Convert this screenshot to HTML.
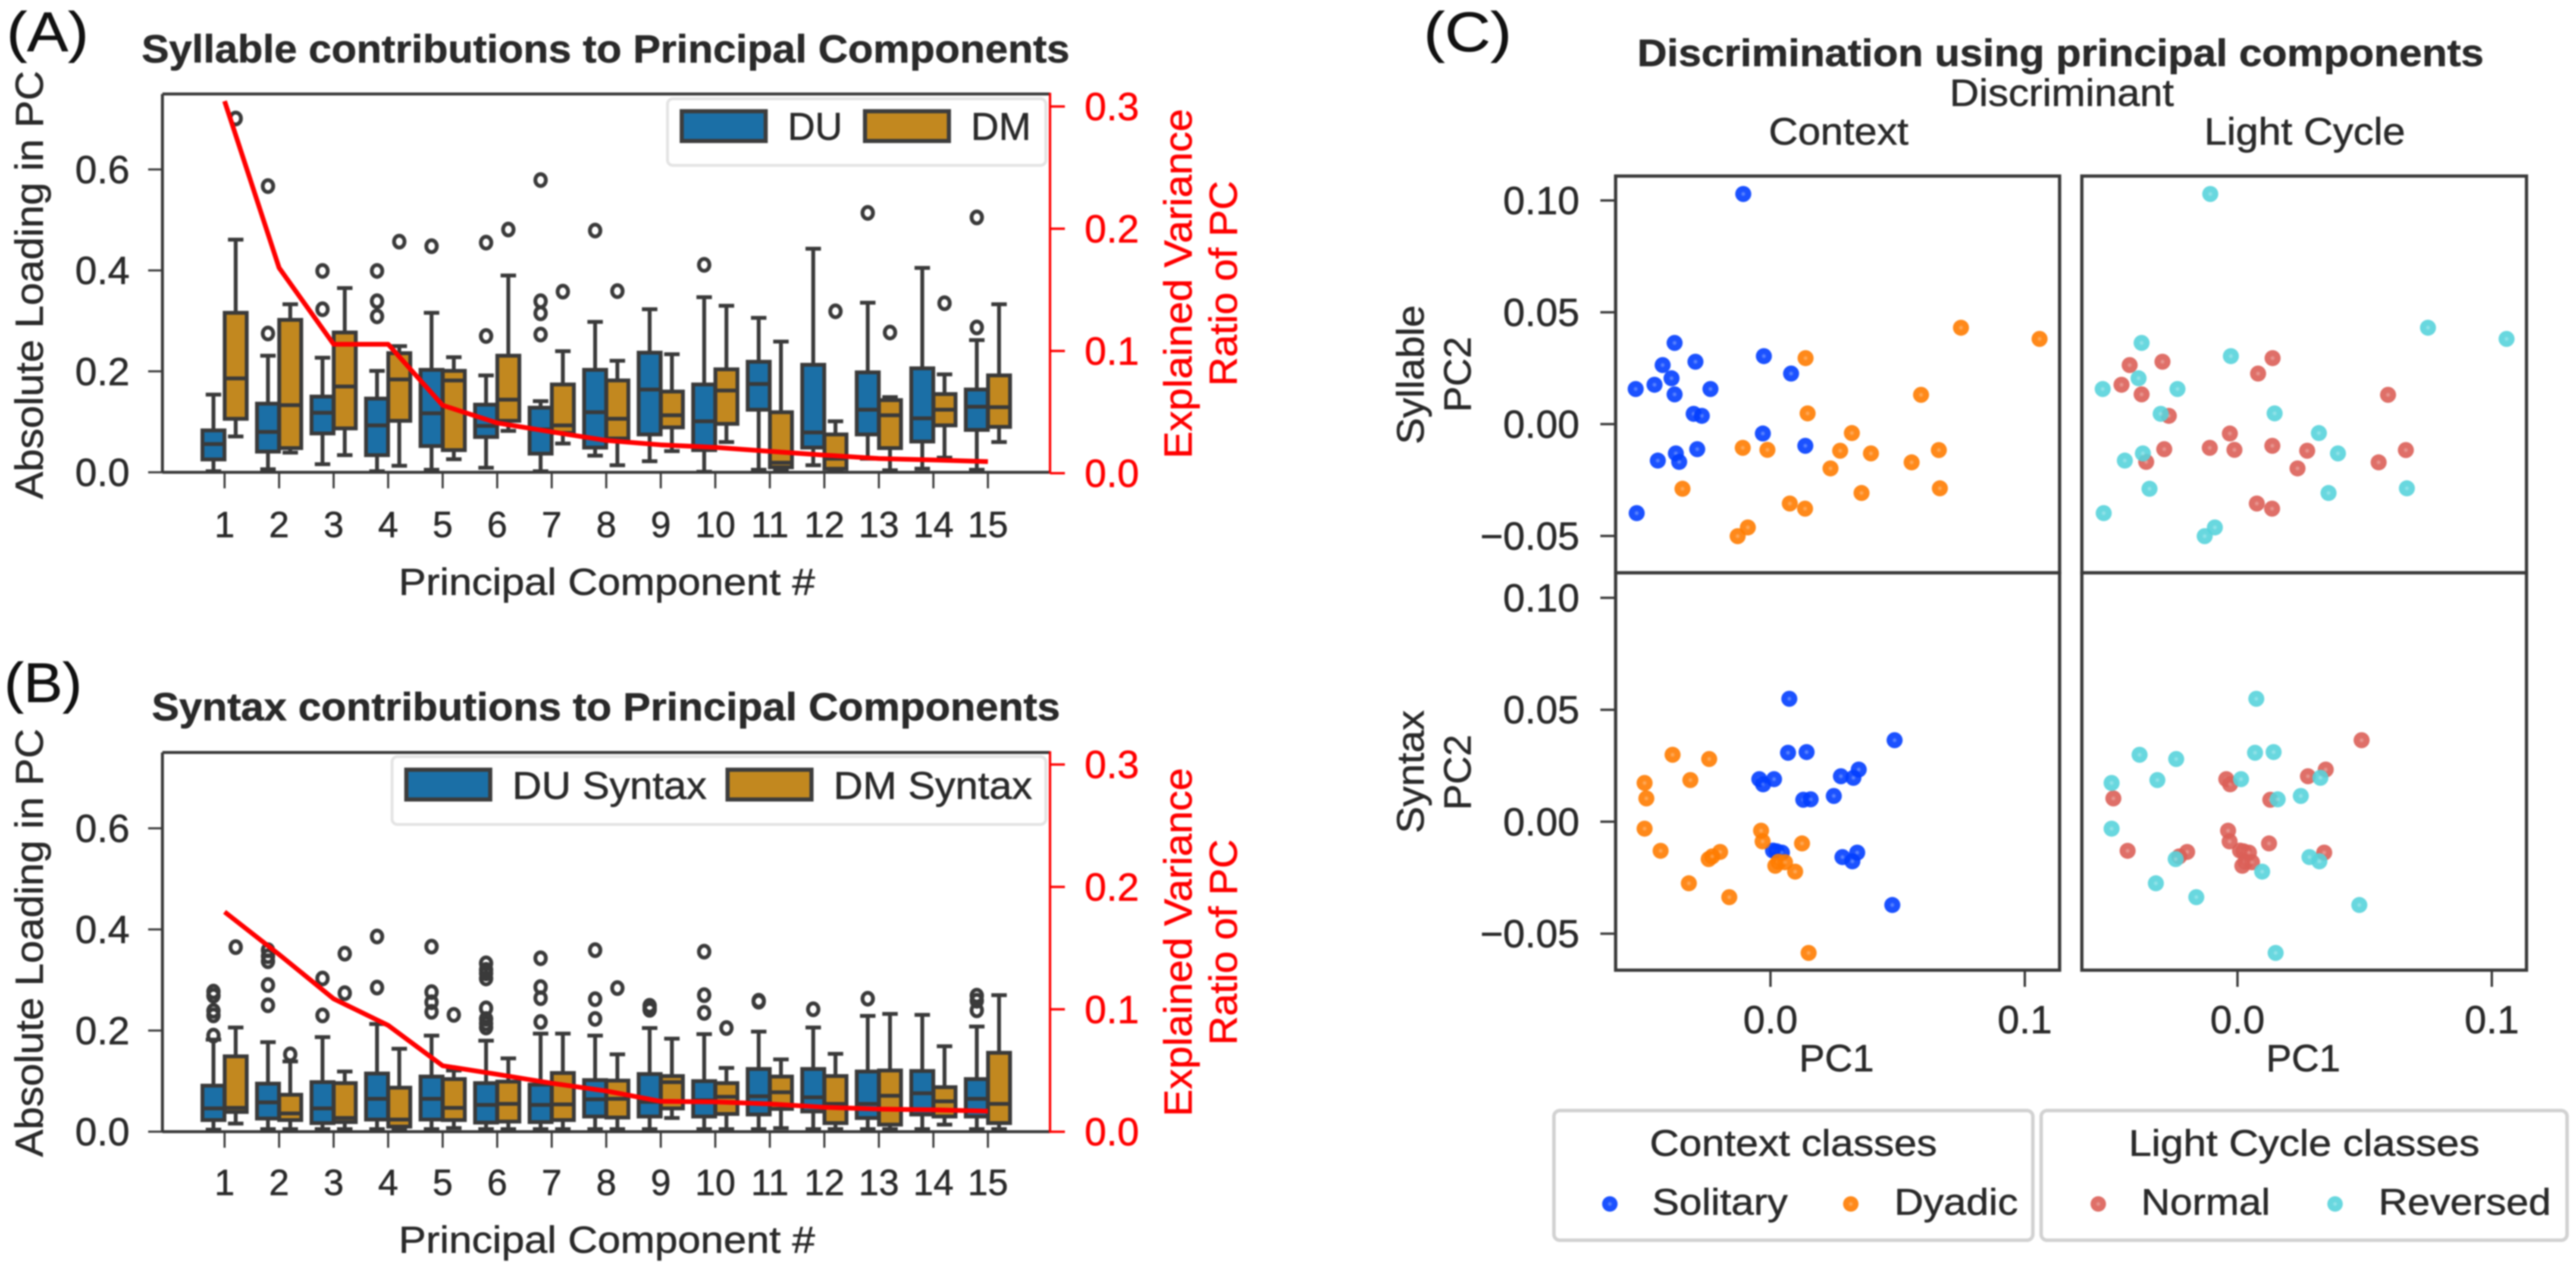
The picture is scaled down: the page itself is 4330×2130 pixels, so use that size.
<!DOCTYPE html>
<html>
<head>
<meta charset="utf-8">
<title>PCA contributions and discrimination</title>
<style>
html,body{margin:0;padding:0;background:#fff;}
svg{display:block;filter:blur(1.3px);}
text{font-family:"Liberation Sans",sans-serif;fill:#2a2a2a;stroke:#2a2a2a;stroke-width:.7px;}
.red{fill:#ff0000;stroke:#ff0000;}
.tag{fill:#111;stroke:#111;}
</style>
</head>
<body>
<svg id="fig" xmlns="http://www.w3.org/2000/svg" width="4330" height="2130" viewBox="0 0 4330 2130">
<defs>
<radialGradient id="g-blue"><stop offset="0" stop-color="#5f8aff"/><stop offset=".35" stop-color="#023eff"/></radialGradient>
<radialGradient id="g-orange"><stop offset="0" stop-color="#ffab5c"/><stop offset=".35" stop-color="#ff7c00"/></radialGradient>
<radialGradient id="g-red"><stop offset="0" stop-color="#e99a94"/><stop offset=".35" stop-color="#db5f57"/></radialGradient>
<radialGradient id="g-cyan"><stop offset="0" stop-color="#95e4ea"/><stop offset=".35" stop-color="#57d3db"/></radialGradient>
</defs>
<rect width="4330" height="2130" fill="#fff"/>

<text class="tag" x="11" y="86" font-size="94" textLength="138" lengthAdjust="spacingAndGlyphs">(A)</text>
<text class="tag" x="7" y="1180" font-size="94" textLength="131" lengthAdjust="spacingAndGlyphs">(B)</text>
<text class="tag" x="2393" y="86" font-size="94" textLength="148" lengthAdjust="spacingAndGlyphs">(C)</text>

<text x="238" y="105" font-size="66" font-weight="bold" textLength="1560" lengthAdjust="spacingAndGlyphs">Syllable contributions to Principal Components</text>
<text x="255" y="1211" font-size="66" font-weight="bold" textLength="1527" lengthAdjust="spacingAndGlyphs">Syntax contributions to Principal Components</text>
<text x="2752" y="111" font-size="64" font-weight="bold" textLength="1423" lengthAdjust="spacingAndGlyphs">Discrimination using principal components</text>

<text transform="translate(72,839) rotate(-90)" font-size="66" textLength="720" lengthAdjust="spacingAndGlyphs">Absolute Loading in PC</text>
<text transform="translate(72,1945) rotate(-90)" font-size="66" textLength="720" lengthAdjust="spacingAndGlyphs">Absolute Loading in PC</text>

<text x="670" y="1000" font-size="63" textLength="700" lengthAdjust="spacingAndGlyphs">Principal Component #</text>
<text x="670" y="2106" font-size="63" textLength="700" lengthAdjust="spacingAndGlyphs">Principal Component #</text>

<text class="red" transform="translate(2003,771) rotate(-90)" font-size="66" textLength="588" lengthAdjust="spacingAndGlyphs">Explained Variance</text>
<text class="red" transform="translate(2079,649) rotate(-90)" font-size="66" textLength="345" lengthAdjust="spacingAndGlyphs">Ratio of PC</text>
<text class="red" transform="translate(2003,1877) rotate(-90)" font-size="66" textLength="586" lengthAdjust="spacingAndGlyphs">Explained Variance</text>
<text class="red" transform="translate(2079,1757) rotate(-90)" font-size="66" textLength="346" lengthAdjust="spacingAndGlyphs">Ratio of PC</text>

<g id="panelA"></g>
<g id="panelB"></g>

<g>
<rect x="1122" y="166" width="636" height="112" rx="9" fill="#fff" stroke="#e4e4e4" stroke-width="5"/>
<rect x="1146" y="187" width="141" height="50" fill="#1b6fa6" stroke="#3d3d3d" stroke-width="7"/>
<text x="1324" y="235" font-size="65" textLength="92" lengthAdjust="spacingAndGlyphs">DU</text>
<rect x="1454" y="187" width="141" height="50" fill="#c2881f" stroke="#3d3d3d" stroke-width="7"/>
<text x="1632" y="235" font-size="65" textLength="101" lengthAdjust="spacingAndGlyphs">DM</text>
</g>
<g>
<rect x="659" y="1272" width="1099" height="114" rx="9" fill="#fff" stroke="#e4e4e4" stroke-width="5"/>
<rect x="683" y="1294" width="141" height="50" fill="#1b6fa6" stroke="#3d3d3d" stroke-width="7"/>
<text x="861" y="1343" font-size="65" textLength="327" lengthAdjust="spacingAndGlyphs">DU Syntax</text>
<rect x="1223" y="1294" width="141" height="50" fill="#c2881f" stroke="#3d3d3d" stroke-width="7"/>
<text x="1401" y="1343" font-size="65" textLength="334" lengthAdjust="spacingAndGlyphs">DM Syntax</text>
</g>

<text x="3277" y="178" font-size="64" textLength="377" lengthAdjust="spacingAndGlyphs">Discriminant</text>
<text x="2973" y="243" font-size="64" textLength="235" lengthAdjust="spacingAndGlyphs">Context</text>
<text x="3705" y="243" font-size="64" textLength="338" lengthAdjust="spacingAndGlyphs">Light Cycle</text>
<text transform="translate(2393,747) rotate(-90)" font-size="64" textLength="234" lengthAdjust="spacingAndGlyphs">Syllable</text>
<text transform="translate(2472,693) rotate(-90)" font-size="64" textLength="127" lengthAdjust="spacingAndGlyphs">PC2</text>
<text transform="translate(2393,1401) rotate(-90)" font-size="64" textLength="207" lengthAdjust="spacingAndGlyphs">Syntax</text>
<text transform="translate(2472,1362) rotate(-90)" font-size="64" textLength="127" lengthAdjust="spacingAndGlyphs">PC2</text>
<text x="3024" y="1801" font-size="64" textLength="126" lengthAdjust="spacingAndGlyphs">PC1</text>
<text x="3809" y="1801" font-size="64" textLength="125" lengthAdjust="spacingAndGlyphs">PC1</text>

<g id="panelC"></g>

<g>
<rect x="2612" y="1867" width="805" height="218" rx="10" fill="#fff" stroke="#d2d2d2" stroke-width="6"/>
<text x="2773" y="1943" font-size="62" textLength="483" lengthAdjust="spacingAndGlyphs">Context classes</text>
<circle cx="2706" cy="2024" r="13" fill="url(#g-blue)" opacity=".9"/>
<text x="2777" y="2042" font-size="62" textLength="228" lengthAdjust="spacingAndGlyphs">Solitary</text>
<circle cx="3111" cy="2024" r="13" fill="url(#g-orange)" opacity=".9"/>
<text x="3184" y="2042" font-size="62" textLength="208" lengthAdjust="spacingAndGlyphs">Dyadic</text>
</g>
<g>
<rect x="3431" y="1867" width="884" height="218" rx="10" fill="#fff" stroke="#d2d2d2" stroke-width="6"/>
<text x="3578" y="1943" font-size="62" textLength="590" lengthAdjust="spacingAndGlyphs">Light Cycle classes</text>
<circle cx="3527" cy="2024" r="13" fill="url(#g-red)" opacity=".9"/>
<text x="3599" y="2042" font-size="62" textLength="217" lengthAdjust="spacingAndGlyphs">Normal</text>
<circle cx="3925" cy="2024" r="13" fill="url(#g-cyan)" opacity=".9"/>
<text x="3998" y="2042" font-size="62" textLength="290" lengthAdjust="spacingAndGlyphs">Reversed</text>
</g>
</svg>

<script>
// ---------- categories and tick labels ----------
const pcCategories = ['1','2','3','4','5','6','7','8','9','10','11','12','13','14','15'];
const loadingTicks = [0, 0.2, 0.4, 0.6];
const varianceTicks = [0, 0.1, 0.2, 0.3];
const pc1Ticks = [0, 0.1];
const pc2Ticks = [-0.05, 0, 0.05, 0.10];

// ---------- panel A: syllable loadings ----------
const syllableDuLow  = [.002,.006,.016,.002,.005,.009,.002,.033,.022,.001,.005,.014,.027,.007,.005];
const syllableDuQ1   = [.0255,.041,.077,.034,.052,.070,.037,.049,.075,.044,.124,.049,.075,.061,.084];
const syllableDuMed  = [.056,.080,.118,.093,.117,.092,.085,.119,.164,.101,.175,.079,.124,.107,.130];
const syllableDuQ3   = [.083,.136,.150,.146,.203,.134,.128,.203,.237,.174,.219,.213,.198,.206,.164];
const syllableDuHigh = [.154,.231,.227,.201,.316,.192,.141,.298,.323,.347,.306,.443,.336,.405,.262];
const syllableDuOut  = [[],[.567,.275],[.399,.323],[.399,.339,.309],[.448],[.455,.270],[.579,.339,.315,.273],[.479],[],[.411],[],[],[.514],[],[.505,.287]];

const syllableDmLow  = [.071,.039,.034,.013,.026,.082,.057,.014,.042,.060,.004,.004,.004,.029,.060];
const syllableDmQ1   = [.106,.048,.087,.102,.044,.102,.078,.067,.089,.096,.010,.007,.048,.093,.090];
const syllableDmMed  = [.186,.133,.170,.184,.182,.144,.093,.106,.113,.162,.019,.027,.113,.124,.129];
const syllableDmQ3   = [.316,.302,.277,.236,.201,.231,.174,.182,.160,.204,.119,.075,.143,.155,.192];
const syllableDmHigh = [.461,.333,.365,.250,.228,.390,.240,.221,.234,.330,.259,.101,.149,.194,.333];
const syllableDmOut  = [[.701],[],[],[.457],[],[.481],[.358],[.359],[],[],[],[.319],[.277],[.335],[]];

const syllableVariance = [.3044,.168,.1055,.1055,.0555,.0411,.0338,.0268,.0232,.0211,.0179,.0148,.012,.0108,.0095];

// ---------- panel B: syntax loadings ----------
const syntaxDuLow  = [.004,.005,.005,.005,.005,.005,.005,.005,.005,.005,.005,.005,.005,.005,.005];
const syntaxDuQ1   = [.023,.026,.017,.024,.024,.018,.019,.030,.030,.030,.034,.040,.027,.034,.030];
const syntaxDuMed  = [.046,.058,.046,.065,.065,.053,.053,.064,.059,.062,.070,.068,.055,.076,.065];
const syntaxDuQ3   = [.091,.095,.098,.115,.109,.096,.093,.102,.114,.100,.124,.124,.119,.120,.104];
const syntaxDuHigh = [.182,.177,.187,.213,.190,.180,.194,.190,.205,.193,.198,.206,.229,.231,.208];
const syntaxDuOut  = [[.190,.230,.239,.269,.277],[.250,.290,.337,.347,.359],[.230,.303],[.285,.386],[.237,.256,.276,.366],[.206,.214,.223,.244,.303,.313,.320,.333],[.217,.264,.286,.343],[.223,.262,.359],[.241,.244,.249],[.235,.270,.356],[.259,.257],[.242],[.263],[],[.240,.259,.269]];

const syntaxDmLow  = [.016,.005,.005,.004,.007,.005,.005,.005,.027,.005,.007,.005,.005,.014,.005];
const syntaxDmQ1   = [.039,.023,.019,.010,.023,.020,.023,.028,.046,.035,.045,.017,.014,.030,.017];
const syntaxDmMed  = [.047,.036,.027,.024,.047,.055,.054,.065,.098,.069,.078,.055,.071,.060,.055];
const syntaxDmQ3   = [.149,.073,.096,.087,.104,.099,.116,.101,.110,.096,.109,.110,.121,.088,.156];
const syntaxDmHigh = [.206,.139,.119,.164,.121,.145,.194,.153,.184,.126,.143,.154,.233,.169,.270];
const syntaxDmOut  = [[.365],[.153],[.274,.352],[],[.231],[],[],[.284],[],[.205],[],[],[],[],[]];

const syntaxVariance = [.1796,.1448,.1086,.0869,.0539,.0469,.0396,.0333,.0248,.0244,.0227,.02,.0185,.0179,.0168];

// ---------- panel C: scatter (class 0 = Solitary / Normal, class 1 = Dyadic / Reversed) ----------
const syllablePc1 = [-.0107,-.0377,-.0295,-.0424,-.0026,.0081,-.0389,-.0456,-.0530,-.0377,-.0236,-.0302,-.0270,-.0030,.0137,-.0288,-.0372,-.0359,-.0443,-.0526,
  .0749,.1058,.0138,.0592,.0146,.0320,-.0109,-.0012,.0274,.0395,.0662,.0555,.0236,.0358,.0666,-.0346,.0076,.0136,-.0089,-.0129];
const syllablePc2 = [.1029,.0363,.0279,.0264,.0304,.0226,.0205,.0176,.0157,.0133,.0157,.0046,.0037,-.0042,-.0097,-.0112,-.0131,-.0169,-.0163,-.0398,
  .0431,.0381,.0295,.0131,.0048,-.0040,-.0106,-.0115,-.0119,-.0131,-.0116,-.0171,-.0198,-.0308,-.0287,-.0289,-.0355,-.0378,-.0462,-.0501];
const syllableContext = [0,0,0,0,0,0,0,0,0,0,0,0,0,0,0,0,0,0,0,0, 1,1,1,1,1,1,1,1,1,1,1,1,1,1,1,1,1,1,1,1];
const syllableLight   = [1,1,0,0,1,0,1,0,1,0,1,1,0,0,0,0,1,0,1,1, 1,1,0,0,1,1,0,0,0,1,0,0,0,1,1,1,0,0,1,1];

const syntaxPc1 = [.0074,.0488,.0069,.0142,.0347,.0277,.0326,-.0044,.0014,-.0029,.0249,.0129,.0158,.0341,.0283,.0322,.0479,.0010,.0024,.0045,
  -.0385,-.0241,-.0315,-.0495,-.0488,-.0495,-.0432,-.0198,-.0243,-.0229,-.0037,-.0031,.0124,.0097,-.0321,-.0162,.0150,.0019,.0031,.0057];
const syntaxPc2 = [.0549,.0364,.0308,.0311,.0233,.0203,.0196,.0190,.0190,.0167,.0115,.0098,.0100,-.0138,-.0158,-.0177,-.0372,-.0129,-.0132,-.0138,
  .0299,.0280,.0186,.0173,.0104,-.0031,-.0130,-.0135,-.0167,-.0155,-.0040,-.0088,-.0097,-.0223,-.0275,-.0337,-.0586,-.0197,-.0179,-.0181];
const syntaxContext = [0,0,0,0,0,0,0,0,0,0,0,0,0,0,0,0,0,0,0,0, 1,1,1,1,1,1,1,1,1,1,1,1,1,1,1,1,1,1,1,1];
const syntaxLight   = [1,0,1,1,0,0,1,0,1,0,1,0,1,0,1,1,1,0,0,0, 1,1,1,1,0,1,0,0,1,0,0,0,0,1,1,1,1,0,0,0];

// ---------- drawing helpers ----------
const NS = 'http://www.w3.org/2000/svg';
const INK = '#3a3a3a';
function mk(parent, tag, attrs, txt) {
  const e = document.createElementNS(NS, tag);
  for (const k in attrs) e.setAttribute(k, attrs[k]);
  if (txt !== undefined) e.textContent = txt;
  parent.appendChild(e);
  return e;
}
function seg(parent, x1, y1, x2, y2, col, w) {
  return mk(parent, 'line', {x1, y1, x2, y2, stroke: col, 'stroke-width': w});
}

function drawBox(g, name, cx, y, low, q1, med, q3, high, outs, fill) {
  const hw = 18.5, cap = 13, sw = 6.5;
  const wl = seg(g, cx, y(low), cx, y(q1), INK, sw);
  
  
  const wh = seg(g, cx, y(high), cx, y(q3), INK, sw);
  
  
  const cl = seg(g, cx - cap, y(low), cx + cap, y(low), INK, sw);
  
  
  const ch = seg(g, cx - cap, y(high), cx + cap, y(high), INK, sw);
  
  
  const r = mk(g, 'rect', {x: cx - hw, y: y(q3), width: 2 * hw, height: y(q1) - y(q3), fill: fill, stroke: INK, 'stroke-width': sw});
  
  
  const m = seg(g, cx - hw, y(med), cx + hw, y(med), INK, sw);
  
  
  outs.forEach(function (v) {
    const o = mk(g, 'ellipse', {cx: cx, cy: y(v), rx: 8.8, ry: 10, fill: 'none', stroke: INK, 'stroke-width': 6.5});
    
    
  });
}

function drawBoxPanel(g, key, top, bottom, loadingPerUnit, varBottom, variancePerUnit, labelBaseline, du, dm, variance) {
  const L = 273, R = 1765;
  const x = function (i) { return 377.5 + 91.65 * i; };
  const y = function (v) { return bottom - loadingPerUnit * v; };
  const ry = function (v) { return varBottom - variancePerUnit * v; };

  const bg = mk(g, 'rect', {x: L, y: top, width: R - L, height: bottom - top, fill: '#fff'});
  
  

  pcCategories.forEach(function (c, i) {
    const t = seg(g, x(i), bottom, x(i), bottom + 27, INK, 3.5);
    
    
    const l = mk(g, 'text', {x: x(i), y: labelBaseline, 'font-size': 61, 'text-anchor': 'middle'}, c);
    
    
  });
  loadingTicks.forEach(function (v) {
    const t = seg(g, L - 24, y(v), L, y(v), INK, 3.5);
    
    
    const l = mk(g, 'text', {x: 218, y: y(v) + 23, 'font-size': 66, 'text-anchor': 'end'}, v.toFixed(1));
    
    
  });
  varianceTicks.forEach(function (v) {
    const t = seg(g, R, ry(v), R + 25, ry(v), '#ff0000', 4);
    
    
    const l = mk(g, 'text', {x: 1823, y: ry(v) + 23, 'font-size': 66, class: 'red'}, v.toFixed(1));
    
    
  });

  pcCategories.forEach(function (c, i) {
    drawBox(g, key + '-du-pc' + c, x(i) - 18.7, y, du[0][i], du[1][i], du[2][i], du[3][i], du[4][i], du[5][i], '#1b6fa6');
    drawBox(g, key + '-dm-pc' + c, x(i) + 18.7, y, dm[0][i], dm[1][i], dm[2][i], dm[3][i], dm[4][i], dm[5][i], '#c2881f');
  });

  const pts = variance.map(function (v, i) { return x(i) + ',' + ry(v); }).join(' ');
  const line = mk(g, 'polyline', {points: pts, fill: 'none', stroke: '#ff0000', 'stroke-width': 8, 'stroke-linejoin': 'round'});
  
  

  const sTop = seg(g, L, top, R, top, INK, 5);
  
  
  const sLeft = seg(g, L, top, L, bottom, INK, 5);
  
  
  const sBottom = seg(g, L, bottom, R, bottom, INK, 5);
  
  
  const sRight = seg(g, R, top - 2, R, bottom + 2, '#ff0000', 4);
  
  
}

drawBoxPanel(document.getElementById('panelA'), 'panel-a', 158, 794, 848.5, 795.5, 2055, 903,
  [syllableDuLow, syllableDuQ1, syllableDuMed, syllableDuQ3, syllableDuHigh, syllableDuOut],
  [syllableDmLow, syllableDmQ1, syllableDmMed, syllableDmQ3, syllableDmHigh, syllableDmOut],
  syllableVariance);
drawBoxPanel(document.getElementById('panelB'), 'panel-b', 1265, 1902.5, 850, 1902.6, 2058, 2009,
  [syntaxDuLow, syntaxDuQ1, syntaxDuMed, syntaxDuQ3, syntaxDuHigh, syntaxDuOut],
  [syntaxDmLow, syntaxDmQ1, syntaxDmMed, syntaxDmQ3, syntaxDmHigh, syntaxDmOut],
  syntaxVariance);

// ---------- panel C ----------
const panelC = document.getElementById('panelC');
function scatterX(col, v) { return (col === 0 ? 2976 : 3761) + 4275 * v; }
function scatterY(row, v) { return row === 0 ? 713 - 3760 * v : 1381.4 - 3764 * v; }

function drawScatter(key, col, row, xs, ys, classes, fills) {
  const left = col === 0 ? 2715.7 : 3499.4;
  const right = col === 0 ? 3462 : 4246.8;
  const top = row === 0 ? 296 : 963;
  const bottom = row === 0 ? 963 : 1631;
  const frame = mk(panelC, 'rect', {x: left, y: top, width: right - left, height: bottom - top, fill: '#fff', stroke: INK, 'stroke-width': 5.5});
  
  
  [0, 1].forEach(function (cls) {
    xs.forEach(function (v, i) {
      if (classes[i] !== cls) return;
      const c = mk(panelC, 'circle', {cx: scatterX(col, v), cy: scatterY(row, ys[i]), r: 13.5, fill: fills[cls], opacity: 0.9});
      
      
    });
  });
}
drawScatter('syllable-context', 0, 0, syllablePc1, syllablePc2, syllableContext, ['url(#g-blue)', 'url(#g-orange)']);
drawScatter('syllable-light', 1, 0, syllablePc1, syllablePc2, syllableLight, ['url(#g-red)', 'url(#g-cyan)']);
drawScatter('syntax-context', 0, 1, syntaxPc1, syntaxPc2, syntaxContext, ['url(#g-blue)', 'url(#g-orange)']);
drawScatter('syntax-light', 1, 1, syntaxPc1, syntaxPc2, syntaxLight, ['url(#g-red)', 'url(#g-cyan)']);

[0, 1].forEach(function (row) {
  pc2Ticks.forEach(function (v) {
    const yy = scatterY(row, v);
    const t = seg(panelC, 2690, yy, 2715.7, yy, INK, 4);
    
    
    const lab = (v < 0 ? '\u2212' : '') + Math.abs(v).toFixed(2);
    const l = mk(panelC, 'text', {x: 2655, y: yy + 23, 'font-size': 66, 'text-anchor': 'end'}, lab);
    
    
  });
});
[0, 1].forEach(function (col) {
  pc1Ticks.forEach(function (v) {
    const xx = scatterX(col, v);
    const t = seg(panelC, xx, 1631, xx, 1659, INK, 4);
    
    
    const l = mk(panelC, 'text', {x: xx, y: 1737, 'font-size': 66, 'text-anchor': 'middle'}, v.toFixed(1));
    
    
  });
});
</script>
</body>
</html>
